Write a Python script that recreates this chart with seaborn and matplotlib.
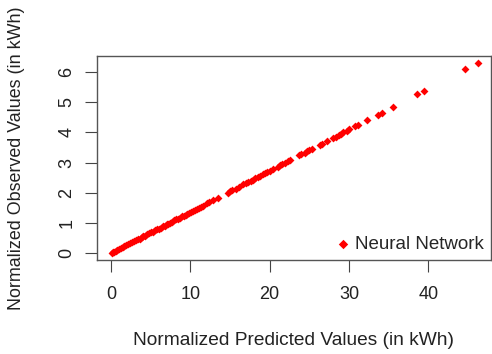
import matplotlib

matplotlib.use("Agg")

import matplotlib.pyplot as plt
import seaborn as sns
import pandas as pd

# Predicted (x) vs observed (y)
predicted = [
    0.10, 0.25, 0.40, 0.60, 0.80, 1.00, 1.25, 1.50, 1.70, 1.95,
    2.20, 2.45, 2.70, 2.90, 3.15, 3.40, 3.60, 3.85, 4.10, 4.35,
    4.60, 4.80, 5.05, 5.30, 5.55, 5.80, 6.00, 6.25, 6.50, 6.75,
    7.00, 7.20, 7.45, 7.70, 7.95, 8.20, 8.40, 8.65, 8.90, 9.15,
    9.40, 9.60, 9.85, 10.10, 10.35, 10.60, 10.80, 11.05, 11.30, 11.55,
    12.1, 12.4, 12.8, 13.5, 14.7, 15.0, 15.3, 15.7, 16.1,
    16.7, 17.0, 17.3, 17.6, 17.9, 18.2, 18.5, 18.8, 19.1, 19.4, 19.7, 20.0, 20.4,
    21.0, 21.3, 21.6, 21.9, 22.3, 22.6,
    23.7, 24.0, 24.4, 24.7, 25.0, 25.3,
    26.3, 26.6, 27.2,
    28.0, 28.3, 28.7, 29.0, 29.3, 29.7, 30.05,
    30.8, 31.1, 32.3, 33.6, 34.1, 35.5, 38.6, 39.4, 44.6, 46.3,
]
observed = [
    0.01, 0.03, 0.05, 0.08, 0.11, 0.14, 0.17, 0.20, 0.23, 0.27,
    0.30, 0.33, 0.37, 0.40, 0.43, 0.46, 0.49, 0.53, 0.56, 0.59,
    0.63, 0.66, 0.69, 0.72, 0.76, 0.79, 0.82, 0.85, 0.89, 0.92,
    0.96, 0.98, 1.02, 1.05, 1.09, 1.12, 1.15, 1.18, 1.22, 1.25,
    1.28, 1.31, 1.35, 1.38, 1.41, 1.45, 1.48, 1.51, 1.54, 1.58,
    1.65, 1.69, 1.75, 1.84, 2.01, 2.05, 2.09, 2.14, 2.20,
    2.28, 2.32, 2.36, 2.40, 2.44, 2.48, 2.53, 2.57, 2.61, 2.65, 2.69, 2.73, 2.78,
    2.87, 2.91, 2.95, 2.99, 3.04, 3.08,
    3.24, 3.28, 3.33, 3.37, 3.41, 3.45,
    3.59, 3.63, 3.71,
    3.82, 3.86, 3.92, 3.96, 4.00, 4.05, 4.10,
    4.20, 4.25, 4.41, 4.59, 4.65, 4.85, 5.27, 5.38, 6.09, 6.31,
]
x_ticks = [0, 10, 20, 30, 40]
y_ticks = [0, 1, 2, 3, 4, 5, 6]

df = pd.DataFrame({"predicted": predicted, "observed": observed})

sns.set_style("white")
plt.rcParams["font.family"] = ["Liberation Sans", "DejaVu Sans"]

fig = plt.figure(figsize=(4.92, 3.54), dpi=100)
ax = fig.add_axes([0.197, 0.2655, 0.801, 0.5765])

sns.scatterplot(data=df, x="predicted", y="observed", marker="D", s=16,
                color="red", linewidth=0, label="Neural Network", ax=ax)

ax.set_xlim(-1.77, 47.9)
ax.set_ylim(-0.22, 6.53)
ax.set_xticks(x_ticks)
ax.set_yticks(y_ticks)
ax.tick_params(axis="x", bottom=True, length=8.6, width=0.8, pad=10, labelsize=13,
               colors="#444444", labelcolor="#222222")
ax.tick_params(axis="y", left=True, length=8.6, width=0.8, pad=7, labelsize=13,
               colors="#444444", labelcolor="#222222", labelrotation=90)
for lbl in ax.get_yticklabels():
    lbl.set_va("center")
for spine in ax.spines.values():
    spine.set_color("#555555")
    spine.set_linewidth(1.0)

ax.set_xlabel("Normalized Predicted Values (in kWh)", fontsize=13.8, color="#222222", labelpad=21)
ax.set_ylabel("Normalized Observed Values (in kWh)", fontsize=12.9, color="#222222", labelpad=24)

leg = ax.legend(loc="lower right", frameon=False, fontsize=13.5, handletextpad=0.1,
                borderaxespad=0.0, markerscale=1.2, handlelength=1.0)

plt.savefig("out.png", dpi=100)
plt.close()
